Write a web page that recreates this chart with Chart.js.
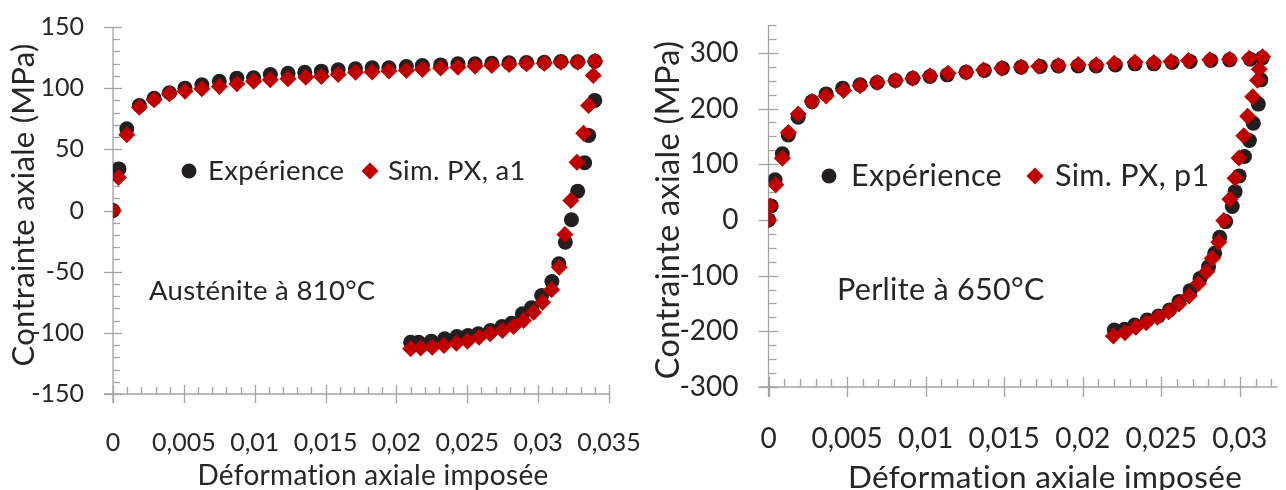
<!DOCTYPE html>
<html><head><meta charset="utf-8">
<script src="https://cdn.jsdelivr.net/npm/chart.js@4/dist/chart.umd.min.js"></script>
<style>
html,body{margin:0;padding:0;background:#fff;overflow:hidden;width:1286px;height:490px}
canvas{position:absolute;top:0}
#c1{left:0}
#c2{left:640px}
</style></head><body>
<canvas id="c1" width="640" height="490"></canvas>
<canvas id="c2" width="646" height="490"></canvas>
<script>
// ---------- Data: Austénite à 810°C ----------
const austExpStrain = [0,0.00042,0.00097,0.00186,0.0029,0.00398,0.00508,0.00627,0.0075,0.00874,0.00992,0.0111,0.01235,0.01353,0.0147,0.01589,0.01711,0.01829,0.01947,0.0207,0.02183,0.02312,0.02434,0.02555,0.02673,0.02795,0.02918,0.03043,0.03161,0.03279,0.03401,
  0.034,0.03357,0.03328,0.03279,0.03235,0.03192,0.03146,0.03097,0.03025,0.02953,0.02889,0.02814,0.02745,0.02664,0.02578,0.02505,0.02427,0.0234,0.02246,0.02157,0.0210];
const austExpStress = [0,34,66.8,85.8,91.8,96.2,100,102.7,105.7,108.2,108.5,111.2,112.2,113,113.9,115,115.8,116.6,116.6,117.7,118.5,119,119.9,119.9,120.4,120.7,121,121.2,121.8,121.6,122,
  90,61.3,39,15.8,-7.6,-25.9,-43.6,-58,-69.5,-79.5,-84.4,-92.1,-94.8,-98.1,-100.8,-102.2,-103,-104.9,-106.8,-107.7,-107.7];
const austSimStrain = [0,0.00038,0.00097,0.00186,0.0029,0.00398,0.00508,0.00627,0.0075,0.00874,0.00992,0.0111,0.01235,0.0136,0.0147,0.01589,0.01711,0.01829,0.01947,0.0207,0.02183,0.02312,0.02434,0.02555,0.02673,0.02795,0.02918,0.03043,0.03161,0.03279,0.03401,
  0.03389,0.03356,0.03321,0.03274,0.03231,0.03189,0.03149,0.03095,0.03031,0.02968,0.02897,0.02826,0.02748,0.02661,0.02583,0.02501,0.02423,0.02335,0.02253,0.02171,0.021];
const austSimStress = [0,27,62,84.5,90.5,95.4,97.5,99.5,101.4,103.6,105.7,106.8,107.6,109,109.5,111.2,113,113.2,114,114.4,115.3,116.4,117.2,118,118.5,119.4,119.9,120.4,121.2,121.2,122,
  110.4,85.8,63.2,39.5,8.2,-19.6,-46.3,-64.8,-75,-83.1,-89.9,-94.8,-98.1,-100.8,-103.6,-106.8,-108.5,-110.4,-111.7,-112.3,-113];
const austXTicks = [0,0.005,0.01,0.015,0.02,0.025,0.03,0.035];
const austYTicks = [-150,-100,-50,0,50,100,150];

// ---------- Data: Perlite à 650°C ----------
const perlExpStrain = [0,0.00017,0.00042,0.00088,0.00126,0.00189,0.00277,0.00367,0.00472,0.00583,0.00692,0.00808,0.00918,0.01028,0.01138,0.01258,0.01374,0.01489,0.01608,0.0173,0.01845,0.01971,0.02086,0.02208,0.02333,0.02453,0.02569,0.02684,0.02816,0.02935,0.03067,0.03143,
  0.03134,0.03118,0.03086,0.03061,0.0303,0.02996,0.0297,0.02952,0.0291,0.02872,0.0284,0.02801,0.02747,0.02684,0.02613,0.02552,0.02482,0.0241,0.02331,0.02267,0.02201];
const perlExpStress = [0,25,72,118.6,152.7,184.5,212.5,226.3,236.6,242.5,246.7,250.3,254.5,257.4,260.5,265.3,268.2,272.5,274.3,275.4,276.6,276.6,276.6,278.4,280.2,280.2,282.6,284.4,286.2,287.4,288.7,291,
  251.5,208,173.7,142.5,113.8,79,50.8,24,-3,-31,-60,-84,-105,-127,-146.7,-161.7,-172.4,-179.6,-188.6,-196.4,-197.6];
const perlSimStrain = [0,0.0001,0.00046,0.00088,0.00126,0.00189,0.00277,0.00367,0.00478,0.00583,0.00692,0.00808,0.00918,0.01028,0.01143,0.01258,0.01369,0.01484,0.01608,0.0172,0.01845,0.01971,0.02086,0.02201,0.02333,0.02453,0.02562,0.02673,0.02809,0.02935,0.0306,0.03145,
  0.03124,0.03113,0.03082,0.0305,0.03025,0.02995,0.0297,0.02937,0.02898,0.02866,0.02825,0.02789,0.02736,0.02677,0.02612,0.02547,0.02476,0.02404,0.02338,0.02269,0.02195];
const perlSimStress = [0,25,63,110.8,156.8,190.4,212.5,222.7,232.3,240.7,246.7,250.3,254.5,258.7,263.5,265.3,269.4,272.5,274.5,276,277.5,279,278.5,281.5,283,282.6,284.4,286.2,287.4,288.7,290.5,293,
  270.7,251,221,186,151,111,75,37,-1,-40,-69,-93,-114,-136.5,-151,-164.7,-174.8,-184.5,-192.7,-202.4,-208.4];
const perlXTicks = [0,0.005,0.01,0.015,0.02,0.025,0.03];
const perlYTicks = [-300,-200,-100,0,100,200,300];

// ---------- Texts ----------
const xTitle = 'Déformation axiale imposée';
const yTitle = 'Contrainte axiale (MPa)';
const expLabel = 'Expérience';

const FONT = 'Lato';
const TXT = '#262626';
const AX = '#a3a3a3';
const BLACK = '#231f20';
const RED = '#c00000';

function pts(xs, ys){ return xs.map((x,i)=>({x:x, y:ys[i]})); }
function fmtX(v){ return v===0 ? '0' : String(v).replace('.', ','); }

function makeChart(id, o){
  const axesPlugin = {
    id:'axes'+id,
    beforeDatasetsDraw(chart){
      const ctx = chart.ctx, xs = chart.scales.x, ys = chart.scales.y;
      const x0 = xs.getPixelForValue(o.xMin), yb = ys.getPixelForValue(o.yMin), yt = ys.getPixelForValue(o.yMax);
      ctx.save();
      ctx.strokeStyle = AX; ctx.lineWidth = 1.3;
      const L = (a,b,c,d)=>{ctx.beginPath();ctx.moveTo(a,b);ctx.lineTo(c,d);ctx.stroke();};
      L(x0, yt, x0, yb + o.major);
      L(x0 - o.major, yb, xs.right, yb);
      const ny = Math.round((o.yMax - o.yMin)/o.yMinor);
      for(let i=0;i<=ny;i++){
        const v = o.yMin + i*o.yMinor, p = Math.round(ys.getPixelForValue(v))+0.5;
        if (o.yTicks.includes(v)) L(x0 - o.major, p, x0 + o.major, p);
        else L(x0, p, x0 + o.minor, p);
      }
      const nx = Math.floor((o.xMax - o.xMin)/o.xMinor + 1e-6);
      for(let i=0;i<=nx;i++){
        const v = +(o.xMin + i*o.xMinor).toFixed(4), p = Math.round(xs.getPixelForValue(v))+0.5;
        if (o.xTicks.some(t=>Math.abs(t-v)<1e-9)) L(p, yb - o.major, p, yb + o.major);
        else L(p, yb - o.minor, p, yb);
      }
      ctx.restore();
    },
    afterDraw(chart){
      const ctx = chart.ctx;
      ctx.save();
      if ('letterSpacing' in ctx) ctx.letterSpacing = '0.3px';
      ctx.fillStyle = TXT;
      ctx.textBaseline = 'alphabetic';
      // x title
      ctx.font = o.xtFont + 'px ' + FONT;
      ctx.textAlign = 'center';
      ctx.fillText(xTitle, o.xtX, o.xtY);
      // y title
      ctx.save();
      ctx.translate(o.ytX, o.ytY);
      ctx.rotate(-Math.PI/2);
      ctx.font = o.ytFont + 'px ' + FONT;
      ctx.fillText(yTitle, 0, 0);
      ctx.restore();
      // legend
      ctx.textAlign = 'left';
      ctx.font = o.lgFont + 'px ' + FONT;
      ctx.fillStyle = BLACK;
      ctx.beginPath(); ctx.arc(o.lg1X, o.lgMY, 7.5, 0, Math.PI*2); ctx.fill();
      ctx.fillStyle = TXT;
      ctx.fillText(expLabel, o.lg1T, o.lgY);
      ctx.fillStyle = RED;
      const r = 8.5;
      ctx.beginPath(); ctx.moveTo(o.lg2X, o.lgMY - r); ctx.lineTo(o.lg2X + r, o.lgMY); ctx.lineTo(o.lg2X, o.lgMY + r); ctx.lineTo(o.lg2X - r, o.lgMY); ctx.closePath(); ctx.fill();
      ctx.fillStyle = TXT;
      ctx.fillText(o.simLabel, o.lg2T, o.lgY);
      // annotation
      ctx.font = o.anFont + 'px ' + FONT;
      ctx.fillText(o.note, o.anX, o.anY);
      ctx.restore();
    }
  };
  return new Chart(document.getElementById(id), {
    type:'scatter',
    data:{datasets:[
      {label:expLabel, data:pts(o.expX,o.expY), pointStyle:'circle', pointRadius:7.5, pointHoverRadius:7.5, backgroundColor:BLACK, borderColor:BLACK, borderWidth:0, order:2},
      {label:o.simLabel, data:pts(o.simX,o.simY), pointStyle:'rectRot', pointRadius:8.5, pointHoverRadius:8.5, backgroundColor:RED, borderColor:RED, borderWidth:0, order:1}
    ]},
    options:{
      responsive:false, animation:false, devicePixelRatio:1,
      layout:{padding:{top:o.padTop, right:o.padRight, left:0, bottom:0}},
      plugins:{legend:{display:false}, tooltip:{enabled:false}},
      scales:{
        x:{type:'linear', min:o.xMin, max:o.xMax,
          afterBuildTicks:s=>{ s.ticks = o.xTicks.map(v=>({value:v})); },
          afterFit:s=>{ s.height = o.xH; s.paddingLeft = 0; s.paddingRight = 0; },
          ticks:{callback:v=>fmtX(v), font:{family:FONT, size:o.tickFont}, color:TXT, padding:o.xPad, maxRotation:0, autoSkip:false},
          grid:{display:false, drawTicks:false}, border:{display:false}},
        y:{type:'linear', min:o.yMin, max:o.yMax,
          afterBuildTicks:s=>{ s.ticks = o.yTicks.map(v=>({value:v})); },
          afterFit:s=>{ s.width = o.yW; s.paddingTop = 0; s.paddingBottom = 0; },
          ticks:{callback:v=>String(v), font:{family:FONT, size:o.tickFont}, color:TXT, padding:o.yPad, autoSkip:false},
          grid:{display:false, drawTicks:false}, border:{display:false}}
      }
    },
    plugins:[axesPlugin]
  });
}

makeChart('c1', {
  expX:austExpStrain, expY:austExpStress, simX:austSimStrain, simY:austSimStress,
  xTicks:austXTicks, yTicks:austYTicks, xMin:0, xMax:0.035, yMin:-150, yMax:150, xMinor:0.001, yMinor:10,
  padTop:27, padRight:31, xH:96, yW:113, xPad:34, yPad:29, tickFont:25,
  major:9, minor:7,
  simLabel:'Sim. PX, a1', note:'Austénite à 810°C',
  xtFont:28, xtX:373, xtY:485, ytFont:31, ytX:34, ytY:205,
  lgFont:27.5, lg1X:189, lg1T:208, lg2X:370, lg2T:388, lgY:180, lgMY:171,
  anFont:27.5, anX:149, anY:300
});
makeChart('c2', {
  expX:perlExpStrain, expY:perlExpStress, simX:perlSimStrain, simY:perlSimStress,
  xTicks:perlXTicks, yTicks:perlYTicks, xMin:0, xMax:0.0324, yMin:-300, yMax:350, xMinor:0.001, yMinor:25,
  padTop:25, padRight:0, xH:103, yW:128.5, xPad:35, yPad:30, tickFont:28,
  major:10, minor:8,
  simLabel:'Sim. PX, p1', note:'Perlite à 650°C',
  xtFont:31.5, xtX:405, xtY:488, ytFont:32.5, ytX:39, ytY:210,
  lgFont:30.5, lg1X:189, lg1T:211, lg2X:395, lg2T:415, lgY:186, lgMY:176,
  anFont:30.5, anX:197, anY:300
});
</script>
</body></html>
